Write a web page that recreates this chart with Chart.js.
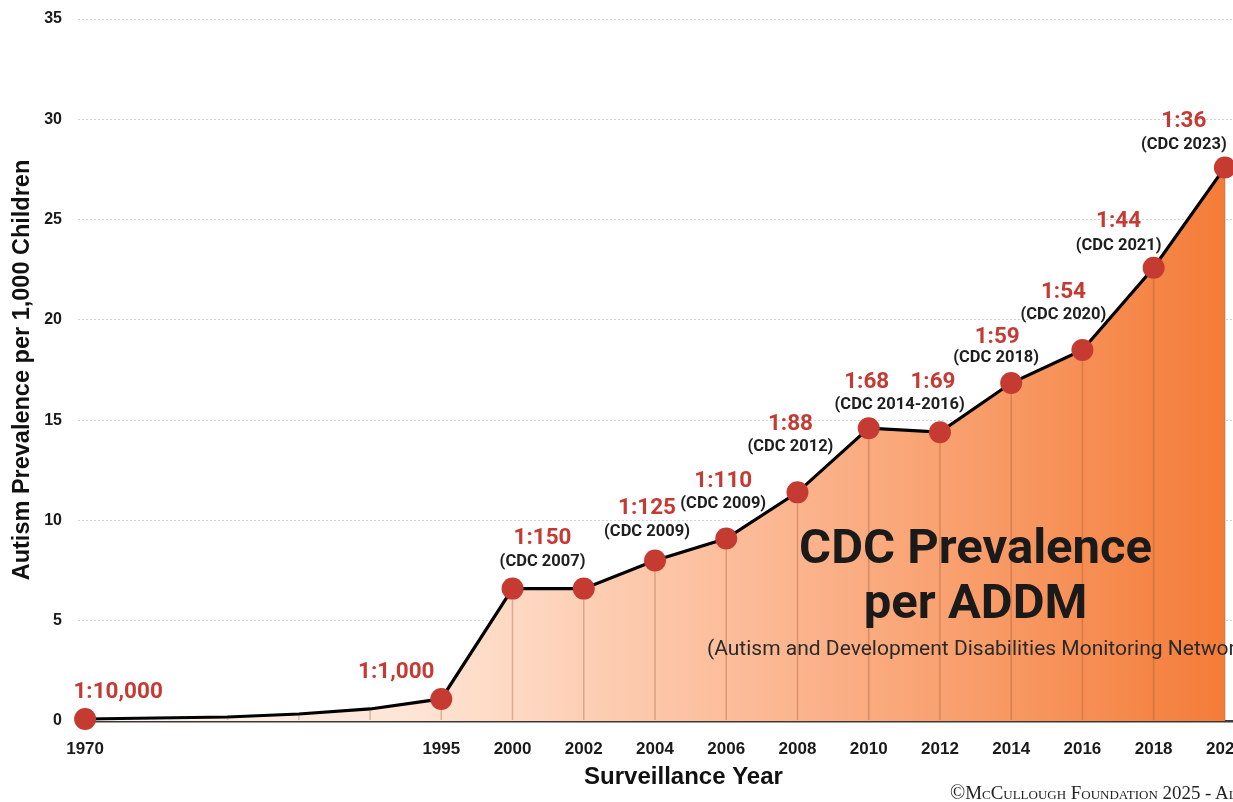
<!DOCTYPE html>
<html>
<head>
<meta charset="utf-8">
<script src="https://cdn.jsdelivr.net/npm/chart.js@4/dist/chart.umd.min.js"></script>
<style>
  html, body { margin: 0; padding: 0; background: #fff; }
  #wrap { position: relative; width: 1233px; height: 802px; overflow: hidden; background: #fff; }
  #holder { position: absolute; left: 0; top: 0; width: 1300px; height: 802px; }
  #copy { position: absolute; left: 950px; top: 781px; white-space: nowrap;
          font-family: "Liberation Serif", "DejaVu Serif", serif; font-variant: small-caps;
          font-size: 18.9px; color: #222; }
  #copy span { font-size: 20px; }
</style>
</head>
<body>
<div id="wrap">
  <div id="holder"><canvas id="c" width="1300" height="802"></canvas></div>
  <div id="copy"><span>©</span>McCullough Foundation 2025 - All Rights Reserved</div>
</div>
<script>
// ---- data ----
const years = ['1970', '', '', '', '', '1995', '2000', '2002', '2004', '2006', '2008', '2010', '2012', '2014', '2016', '2018', '2020'];
const prevalence = [0.1, 0.15, 0.2, 0.35, 0.6, 1.1, 6.6, 6.6, 8.0, 9.1, 11.4, 14.6, 14.4, 16.85, 18.5, 22.6, 27.6];
const ratioLabels = ['1:10,000', '', '', '', '', '1:1,000', '1:150', '', '1:125', '1:110', '1:88', '1:68', '1:69', '1:59', '1:54', '1:44', '1:36'];
const sourceLabels = ['', '', '', '', '', '', '(CDC 2007)', '', '(CDC 2009)', '(CDC 2009)', '(CDC 2012)', '(CDC 2014-2016)', '', '(CDC 2018)', '(CDC 2020)', '(CDC 2021)', '(CDC 2023)'];
const hiddenPoints = [1, 2, 3, 4];
const yTicks = [0, 5, 10, 15, 20, 25, 30, 35];

// ---- label placement (pixel offsets from each point: [dx, dyRatio, dxSource, dySource]) ----
const labelOffsets = {
  0: [33, -27], 5: [-45, -27], 6: [30, -50, 30, -27], 8: [-8, -52, -8, -29],
  9: [-3, -57, -3, -35], 10: [-7, -68, -7, -45], 11: [-2, -46, 31, -23], 12: [-7, -50],
  13: [-14, -46, -15, -25], 14: [-19, -58, -19, -35], 15: [-35, -46, -35, -22], 16: [-41, -46, -41, -23]
};

const tickIdx = years.map((y, i) => y ? i : null).filter(v => v !== null);

const dropLines = {
  id: 'dropLines',
  afterDatasetsDraw(chart) {
    const ctx = chart.ctx, xs = chart.scales.x, ys = chart.scales.y;
    const y0 = ys.getPixelForValue(0);
    ctx.save();
    ctx.strokeStyle = 'rgba(150,80,40,0.33)';
    ctx.lineWidth = 1.5;
    prevalence.forEach((v, i) => {
      if (i < 2) return;
      const x = xs.getPixelForValue(i);
      const y = ys.getPixelForValue(v) + (hiddenPoints.includes(i) ? 2 : 11);
      ctx.beginPath(); ctx.moveTo(x, y); ctx.lineTo(x, y0 - 1); ctx.stroke();
    });
    ctx.restore();
  }
};

const annotations = {
  id: 'annotations',
  afterDraw(chart) {
    const ctx = chart.ctx, xs = chart.scales.x, ys = chart.scales.y;
    ctx.save();
    ctx.textAlign = 'center';
    ctx.textBaseline = 'middle';
    prevalence.forEach((v, i) => {
      const off = labelOffsets[i];
      if (!off) return;
      const x = xs.getPixelForValue(i), y = ys.getPixelForValue(v);
      if (ratioLabels[i]) {
        ctx.fillStyle = '#c53a33';
        ctx.font = 'bold 22.5px Roboto';
        ctx.fillText(ratioLabels[i], x + off[0], y + off[1]);
      }
      if (sourceLabels[i]) {
        ctx.fillStyle = '#1e1e1e';
        ctx.font = 'bold 16.5px Roboto';
        ctx.fillText(sourceLabels[i], x + off[2], y + off[3]);
      }
    });
    // big caption
    const cx = xs.getPixelForValue(12.5);
    ctx.fillStyle = '#1a1a1a';
    ctx.font = 'bold 49px Roboto';
    ctx.fillText('CDC Prevalence', cx, ys.getPixelForValue(8.5));
    ctx.fillText('per ADDM', cx, ys.getPixelForValue(5.75));
    ctx.textAlign = 'left';
    ctx.font = '21px Roboto';
    ctx.fillStyle = '#2a2a2a';
    ctx.fillText('(Autism and Development Disabilities Monitoring Network)', xs.getPixelForValue(8.73), ys.getPixelForValue(3.55));
    ctx.restore();
  }
};

new Chart(document.getElementById('c'), {
  type: 'line',
  data: {
    datasets: [{
      data: prevalence.map((v, i) => ({ x: i, y: v })),
      borderColor: '#000',
      borderWidth: 3.2,
      tension: 0,
      fill: 'origin',
      backgroundColor(ctx) {
        const { chart } = ctx; const a = chart.chartArea;
        if (!a) return 'rgba(0,0,0,0)';
        const x0 = chart.scales.x.getPixelForValue(0), x1 = chart.scales.x.getPixelForValue(16);
        const g = chart.ctx.createLinearGradient(x0, 0, x1, 0);
        g.addColorStop(0, '#fff7f2');
        g.addColorStop(0.3, '#fee3d2');
        g.addColorStop(0.6, '#fcb893');
        g.addColorStop(1, '#f47c38');
        return g;
      },
      pointRadius: (c) => hiddenPoints.includes(c.dataIndex) ? 0 : 11,
      pointHoverRadius: (c) => hiddenPoints.includes(c.dataIndex) ? 0 : 11,
      pointBackgroundColor: '#c53a31',
      pointBorderWidth: 0,
      clip: false
    }]
  },
  options: {
    responsive: false,
    animation: false,
    events: [],
    layout: { padding: { left: 0, right: 4, top: 19, bottom: 10 } },
    plugins: { legend: { display: false }, tooltip: { enabled: false } },
    scales: {
      x: {
        type: 'linear',
        min: -0.1, max: 16.9,
        afterBuildTicks(s) { s.ticks = tickIdx.map(v => ({ value: v })); },
        afterFit(s) { s.height = 71; s.paddingLeft = 0; s.paddingRight = 0; },
        ticks: {
          autoSkip: false, maxRotation: 0, padding: 10,
          color: '#1a1a1a', font: { family: 'Liberation Sans', weight: 'bold', size: 17 },
          callback: (v) => years[v]
        },
        grid: { display: false },
        border: { display: true, color: '#3a3a3a', width: 2.5 },
        title: { display: true, text: 'Surveillance Year', color: '#111',
                 font: { family: 'Liberation Sans', weight: 'bold', size: 24 }, padding: 0 }
      },
      y: {
        min: 0, max: 35,
        afterBuildTicks(s) { s.ticks = yTicks.map(v => ({ value: v })); },
        afterFit(s) { s.width = 78; s.paddingTop = 0; s.paddingBottom = 0; },
        ticks: { padding: 16, color: '#1a1a1a', font: { family: 'Liberation Sans', weight: 'bold', size: 16 } },
        grid: { color: '#d2d2d2', lineWidth: 1, drawTicks: false },
        border: { display: false, dash: [2, 2] },
        title: { display: true, text: 'Autism Prevalence per 1,000 Children', color: '#111',
                 font: { family: 'Liberation Sans', weight: 'bold', size: 23.5 }, padding: { top: 8, bottom: 0 } }
      }
    }
  },
  plugins: [dropLines, annotations]
});
</script>
</body>
</html>
